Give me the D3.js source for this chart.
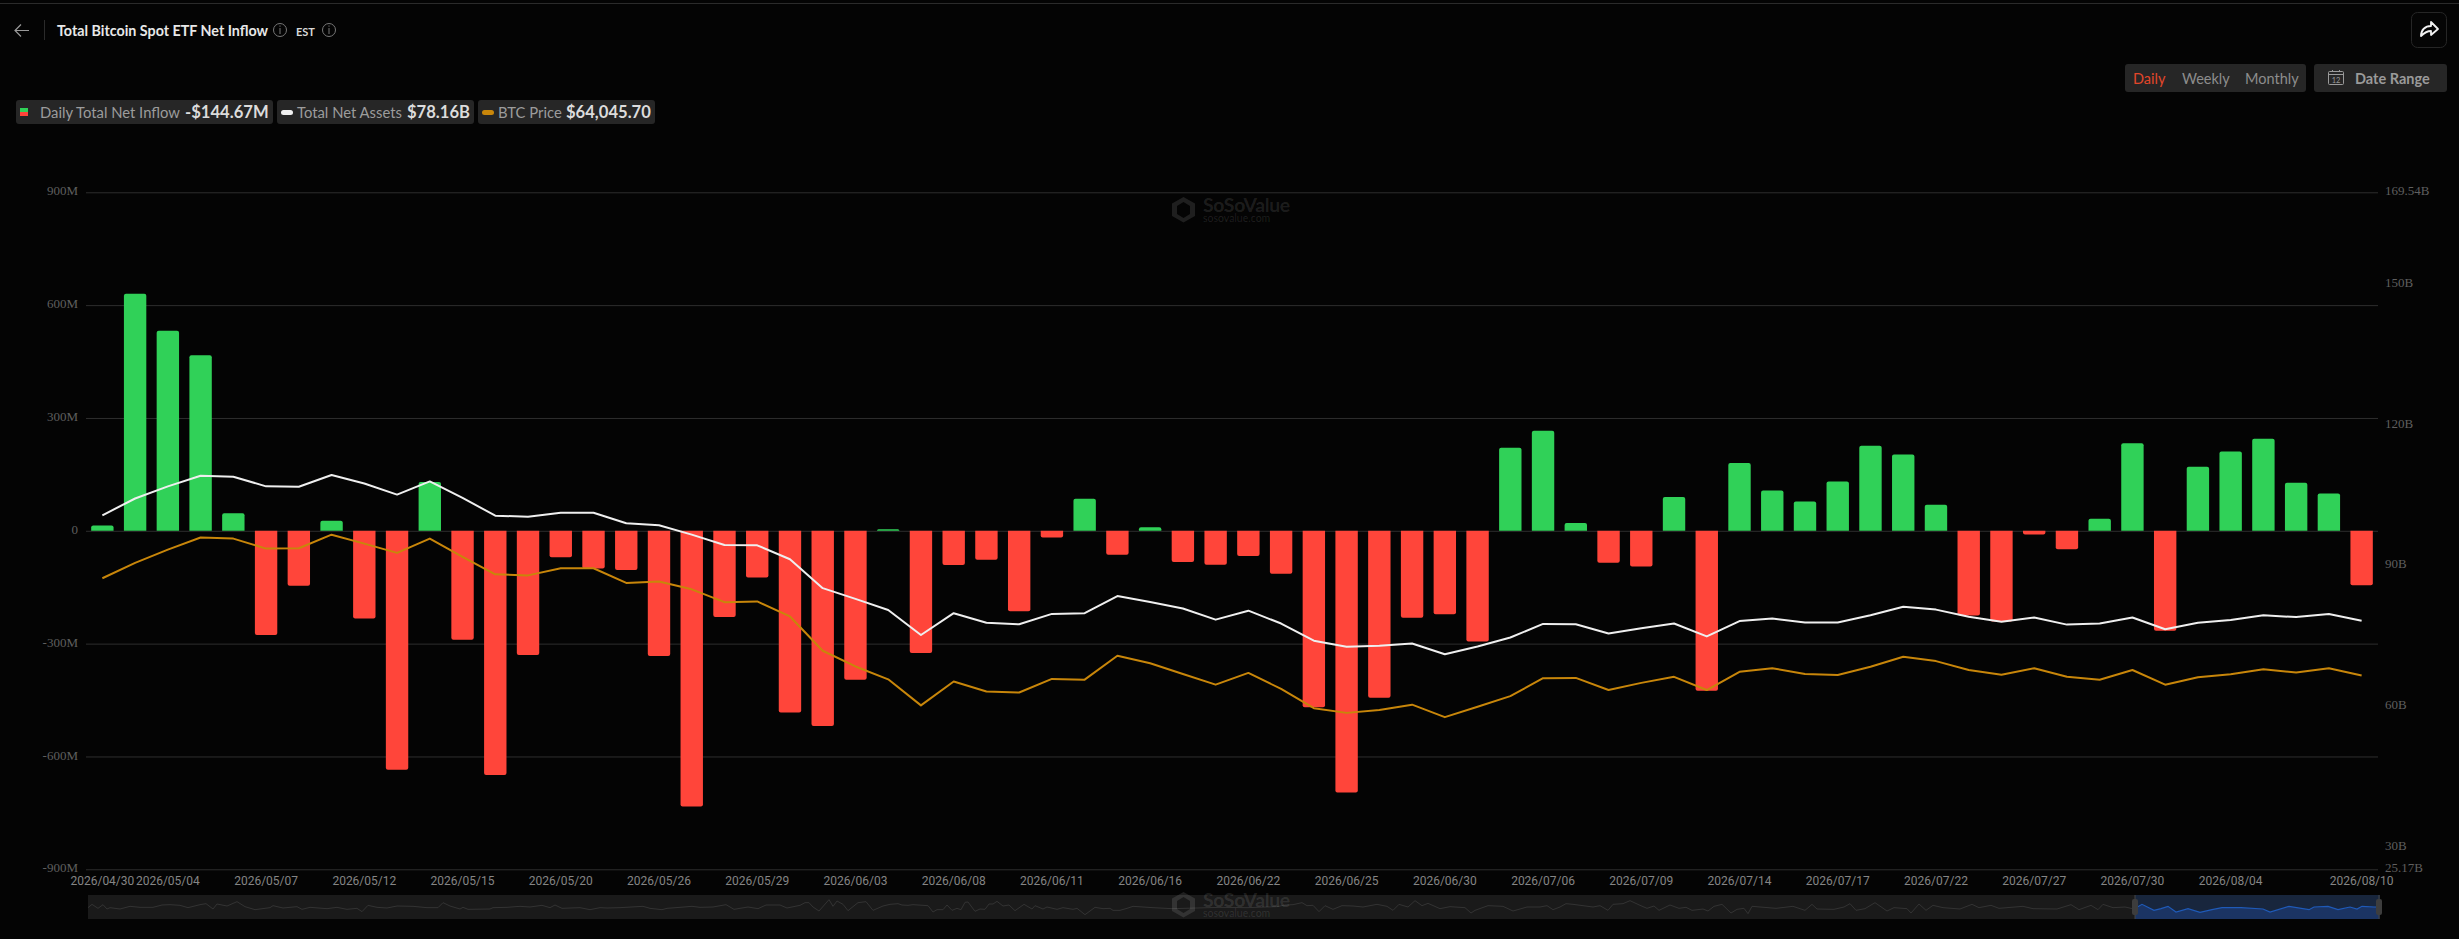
<!DOCTYPE html>
<html>
<head>
<meta charset="utf-8">
<title>Total Bitcoin Spot ETF Net Inflow</title>
<script src="https://cdn.jsdelivr.net/npm/d3@7"></script>
<style>
  html, body { margin: 0; padding: 0; background: #040404; overflow: hidden; }
  svg { display: block; }
  text { font-family: Lato, sans-serif; }
</style>
</head>
<body>
<svg id="chart" width="2459" height="939"></svg>
<script>

var dates = ["2026/04/30","2026/05/01","2026/05/04","2026/05/05","2026/05/06","2026/05/07","2026/05/08","2026/05/11","2026/05/12","2026/05/13",
  "2026/05/14","2026/05/15","2026/05/18","2026/05/19","2026/05/20","2026/05/21","2026/05/22","2026/05/26","2026/05/27","2026/05/28",
  "2026/05/29","2026/06/01","2026/06/02","2026/06/03","2026/06/04","2026/06/05","2026/06/08","2026/06/09","2026/06/10","2026/06/11",
  "2026/06/12","2026/06/15","2026/06/16","2026/06/17","2026/06/18","2026/06/22","2026/06/23","2026/06/24","2026/06/25","2026/06/26",
  "2026/06/29","2026/06/30","2026/07/01","2026/07/02","2026/07/06","2026/07/07","2026/07/08","2026/07/09","2026/07/10","2026/07/13",
  "2026/07/14","2026/07/15","2026/07/16","2026/07/17","2026/07/20","2026/07/21","2026/07/22","2026/07/23","2026/07/24","2026/07/27",
  "2026/07/28","2026/07/29","2026/07/30","2026/07/31","2026/08/03","2026/08/04","2026/08/05","2026/08/06","2026/08/07","2026/08/10"]

var xTickLabels = ["2026/04/30","2026/05/04","2026/05/07","2026/05/12","2026/05/15","2026/05/20","2026/05/26","2026/05/29",
  "2026/06/03","2026/06/08","2026/06/11","2026/06/16","2026/06/22","2026/06/25","2026/06/30","2026/07/06","2026/07/09",
  "2026/07/14","2026/07/17","2026/07/22","2026/07/27","2026/07/30","2026/08/04","2026/08/10"]

// $M
var netInflow = [14,630,532,467,46.5,-277,-146,27,-233,-635,
  130,-290,-649,-330,-70,-100,-104,-333,-733,-229,
  -124,-483,-519,-396,4,-325,-91,-77,-214,-18,
  85,-64,9.5,-83,-90,-67,-114,-469,-696,-444,
  -231,-222,-294,221,266,21,-85,-95,90,-425,
  180,107,78,131,226,203,69,-225,-241,-10,
  -49,32,233,-266,170,211,245,128,99,-144.67]

// $B
var totalAssets = [100.66,104.24,106.83,109.11,108.88,106.83,106.75,109.26,107.43,105.07,
  107.89,104.39,100.58,100.35,101.19,101.19,98.98,98.52,96.54,94.33,
  94.26,91.29,85.12,82.83,80.47,75.14,79.79,77.73,77.42,79.63,
  79.79,83.44,82.15,80.78,78.41,80.32,77.58,73.92,72.63,72.85,
  73.31,71.03,72.70,74.61,77.50,77.42,75.44,76.59,77.58,74.83,
  78.11,78.64,77.81,77.81,79.33,81.16,80.55,79.02,77.96,78.87,
  77.35,77.58,78.87,76.36,77.73,78.34,79.33,78.95,79.63,78.16]

var btcPrice = [77122,79186,80962,82594,82450,81106,81154,82978,81778,80530,
  82450,80002,77650,77506,78466,78466,76498,76690,75634,73906,
  74002,71986,67378,65266,63538,60034,63250,61906,61762,63586,
  63490,66706,65698,64258,62818,64402,62242,59650,59026,59410,
  60130,58450,59842,61282,63682,63730,62098,63058,63874,62098,
  64546,65026,64258,64114,65218,66562,65986,64786,64162,65026,
  63874,63490,64786,62818,63826,64210,64882,64450,65026,64045.7]

var leftTicks = [-900,-600,-300,0,300,600,900]
var rightTicks = [25.17,30,60,90,120,150,169.54]

// slider overview, position along the full history and a rough flow reading
var overviewStep = [0,4,10,15,19,22,32,42,52,65,74,82,92,100,112,118,125,129,139,149,157,167,182,185,195,209,214,222,239,249,259,269,274,280,289,299,309,325,339,350,355,362,372,375,380,402,405,419,432,442,454,462,467,474,492,502,512,
  519,532,555,562,574,579,592,604,612,625,638,646,660,670,678,692,699,712,717,721,725,731,741,745,749,755,760,770,778,785,795,802,810,814,820,825,840,845,849,855,859,864,869,873,877,880,887,892,897,901,905,909,915,921,927,936,944,947,955,959,969,975,985,989,997,1007,1015,1022,1025,1032,
  1039,1045,1065,1084,1109,1132,1159,1179,1189,1197,1205,1214,1219,1225,1231,1237,1245,1254,1265,1275,1289,1299,1305,1311,1320,1327,1334,1340,1352,1362,1377,1383,1387,1400,1415,1425,1439,1452,1459,1465,1472,1478,1485,1505,1512,1520,1525,1535,1542,1552,
  1559,1566,1571,1582,1591,1598,1604,1615,1620,1626,1634,1643,1649,1656,1660,1664,1688,1705,1717,1724,1729,1746,1756,1762,1768,1777,1787,1799,1806,1819,1823,1831,1838,1845,1855,1872,1884,1891,1903,1911,1935,1945,1969,1983,1991,2003,2010,2015,2025,2037,2046,
  2054,2066,2073,2080,2088,2100,2112,2124,2134,2153,2175,2182,2201,2221,2226,2240,2250,2262,2269,2274,2286,2291]
var overviewFlow = [-40,160,-80,140,-120,-40,-120,40,-20,-20,120,140,100,-40,140,200,-120,180,60,320,20,-160,-40,80,-60,20,-140,-20,-100,-20,-140,-80,-280,100,-20,-60,60,40,-40,-40,260,60,-120,-20,-140,-120,-40,-20,40,0,100,-40,120,-80,-40,-160,-40,
  -60,-40,40,-80,-160,-80,-20,40,-20,0,140,-140,0,-100,120,120,-60,100,260,260,0,-240,440,40,360,160,-220,260,320,-200,60,160,200,120,100,140,80,-300,-160,-160,120,-200,-80,-160,280,300,-260,-120,-140,180,180,340,60,120,-220,160,-120,80,-120,0,-140,-40,-140,-80,-460,-20,-100,-80,-200,-200,
  -80,40,-40,-100,-60,-20,-40,0,20,120,140,260,80,100,-280,80,-140,80,60,0,160,40,-200,160,0,380,80,220,-100,20,-40,-360,-200,80,40,-240,0,0,80,-160,0,200,160,0,80,-200,160,200,380,100,
  -80,60,-200,120,-80,-20,-200,-120,-240,40,160,-360,-140,-80,-400,40,-80,40,-200,160,-120,-140,0,200,-200,-100,260,-240,-40,-100,-360,180,-200,100,-40,-120,160,-40,100,-80,40,-100,-120,140,-160,100,-160,160,-40,0,-120,
  160,-200,-100,40,-300,-100,-320,-160,-40,-40,-120,-300,40,-160,0,40,-160,0,-120,40,0,0]

var sliderStart = 2047

var plot = {left: 86, right: 2378, top: 192.3, bottom: 869.3}
var svg = d3.select("#chart")

var x = d3.scaleBand().domain(dates).range([plot.left, plot.right]).paddingInner(0.316).paddingOuter(0.158)
var y = d3.scaleLinear().domain([-900, 900]).range([plot.bottom, plot.top])
var yAssets = d3.scaleLinear().domain([25.17, 169.54]).range([plot.bottom, plot.top])
// no axis for the price in the picture, this range just puts the line where it is
var yPrice = d3.scaleLinear().domain([38000, 129000]).range([plot.bottom, plot.top])

function center(i){ return x(dates[i]) + x.bandwidth() / 2 }

svg.append("rect").attr("width", 2459).attr("height", 939).attr("fill", "#040404")

// header
svg.append("rect").attr("x", 0).attr("y", 3).attr("width", 2459).attr("height", 1).attr("fill", "#2b2b2b")
svg.append("path").attr("d", "M29 30.5H15M21 24.5l-6 6 6 6")
  .attr("fill", "none").attr("stroke", "#9a9a9a").attr("stroke-width", 1.2)
svg.append("rect").attr("x", 44).attr("y", 20).attr("width", 1).attr("height", 20).attr("fill", "#2b2b2b")
svg.append("text").attr("x", 57).attr("y", 36).attr("fill", "#e8e8e8")
  .attr("font-size", 14.3).attr("font-weight", 700).text("Total Bitcoin Spot ETF Net Inflow")
svg.append("text").attr("x", 296).attr("y", 35.5).attr("fill", "#d8d8d8")
  .attr("font-size", 11).attr("font-weight", 700).text("EST")

function info_icon(cx, cy){
  svg.append("circle").attr("cx", cx).attr("cy", cy).attr("r", 6.5)
    .attr("fill", "none").attr("stroke", "#777").attr("stroke-width", 1)
  svg.append("rect").attr("x", cx - 0.5).attr("y", cy - 2).attr("width", 1).attr("height", 6).attr("fill", "#777")
  svg.append("rect").attr("x", cx - 0.5).attr("y", cy - 4.5).attr("width", 1).attr("height", 1.2).attr("fill", "#777")
}
info_icon(280, 30)
info_icon(329, 30)

// share button
svg.append("rect").attr("x", 2411.5).attr("y", 12.5).attr("width", 35).attr("height", 35).attr("rx", 6)
  .attr("fill", "#050505").attr("stroke", "#262626")
svg.append("path").attr("d", "M2421 36c0-6 4-10 10-10v-4l7 7-7 6v-4c-4 0-7 2-10 5z")
  .attr("fill", "none").attr("stroke", "#f2f2f2").attr("stroke-width", 1.8).attr("stroke-linejoin", "round")

// range switcher
svg.append("rect").attr("x", 2125).attr("y", 64).attr("width", 181).attr("height", 28).attr("rx", 3).attr("fill", "#262626")
svg.append("rect").attr("x", 2314).attr("y", 64).attr("width", 133).attr("height", 28).attr("rx", 3).attr("fill", "#262626")
var rangeNames = ["Daily", "Weekly", "Monthly"]
var rangeX = [2133, 2182, 2245]
rangeNames.forEach(function(name, i){
  svg.append("text").attr("x", rangeX[i]).attr("y", 84).attr("font-size", 14.5)
    .attr("fill", i == 0 ? "#e2462a" : "#8d8d8d").text(name)
})
svg.append("text").attr("x", 2355).attr("y", 84).attr("font-size", 14.5).attr("font-weight", 700)
  .attr("fill", "#9a9a9a").text("Date Range")
svg.append("rect").attr("x", 2328.5).attr("y", 71.5).attr("width", 15).attr("height", 13).attr("rx", 1)
  .attr("fill", "none").attr("stroke", "#9a9a9a")
svg.append("path").attr("d", "M2329 74.5H2343M2332.5 70v2M2339.5 70v2").attr("stroke", "#9a9a9a").attr("fill", "none")
svg.append("text").attr("x", 2336).attr("y", 83).attr("text-anchor", "middle").attr("font-size", 7.5).attr("fill", "#9a9a9a").text("12")

// legend chips
function chip(x0, x1, label, labelX, value, valueX){
  svg.append("rect").attr("x", x0).attr("y", 100).attr("width", x1 - x0).attr("height", 24).attr("rx", 3).attr("fill", "#262626")
  svg.append("text").attr("x", labelX).attr("y", 118).attr("font-size", 14.8).attr("fill", "#9c9c9c").text(label)
  svg.append("text").attr("x", valueX).attr("y", 118).attr("font-size", 16.6).attr("font-weight", 700).attr("fill", "#dcdcdc").text(value)
}
chip(16, 273, "Daily Total Net Inflow", 40, "-$144.67M", 185)
chip(277, 474, "Total Net Assets", 297, "$78.16B", 407)
chip(478, 655, "BTC Price", 498, "$64,045.70", 566)
svg.append("rect").attr("x", 20).attr("y", 108).attr("width", 8).attr("height", 4).attr("fill", "#30d158")
svg.append("rect").attr("x", 20).attr("y", 112).attr("width", 8).attr("height", 4).attr("fill", "#ff453a")
svg.append("rect").attr("x", 281).attr("y", 110).attr("width", 12).attr("height", 5).attr("rx", 2.5).attr("fill", "#f0f0f0")
svg.append("rect").attr("x", 482).attr("y", 110).attr("width", 12).attr("height", 5).attr("rx", 2.5).attr("fill", "#c8860a")

function watermark(top){
  var g = svg.append("g").attr("transform", "translate(1172," + top + ")").attr("fill", "#fff").attr("fill-opacity", 0.11)
  g.append("path").attr("fill-rule", "evenodd")
    .attr("d", "M11.5 0L23 6.5V19L11.5 25.5L0 19V6.5Z M11.5 5L5 9V17L11.5 21L18 17V9Z")
  g.append("text").attr("x", 31).attr("y", 14.5).attr("font-size", 19.4).attr("font-weight", 700)
    .attr("letter-spacing", -0.3).text("SoSoValue")
  g.append("text").attr("x", 31).attr("y", 25).attr("font-size", 10.5).text("sosovalue.com")
}
watermark(197)

// grid and y axes
svg.append("g").attr("class", "grid")
  .attr("transform", "translate(" + plot.left + ",0)")
  .call(d3.axisLeft(y).tickValues(leftTicks).tickSize(-(plot.right - plot.left)).tickFormat(""))
  .call(function(g){ g.select(".domain").remove() })
  .call(function(g){ g.selectAll("line").attr("stroke", "#2e2e2e") })

svg.append("g")
  .attr("transform", "translate(78,-1.6)")
  .call(d3.axisLeft(y).tickValues(leftTicks).tickSize(0).tickPadding(0)
    .tickFormat(function(d){ return d == 0 ? "0" : d + "M" }))
  .call(function(g){ g.select(".domain").remove() })
  .call(function(g){ g.selectAll("text").style("font-family", "'Liberation Serif', serif").attr("font-size", 13).attr("fill", "#5f5f5f") })

svg.append("g")
  .attr("transform", "translate(2385,-1.6)")
  .call(d3.axisRight(yAssets).tickValues(rightTicks).tickSize(0).tickPadding(0)
    .tickFormat(function(d){ return d + "B" }))
  .call(function(g){ g.select(".domain").remove() })
  .call(function(g){ g.selectAll("text").style("font-family", "'Liberation Serif', serif").attr("font-size", 13).attr("fill", "#5f5f5f") })

// x axis
svg.append("g")
  .attr("transform", "translate(0,869.3)")
  .call(d3.axisBottom(x).tickValues(xTickLabels).tickSize(0).tickPadding(7))
  .call(function(g){ g.select(".domain").remove() })
  .call(function(g){ g.selectAll("text").style("font-family", "Roboto, sans-serif").attr("font-size", 12).attr("fill", "#858585") })

// bars
svg.append("g").selectAll("path")
  .data(netInflow)
  .join("path")
    .attr("fill", function(d){ return d >= 0 ? "#30d158" : "#ff453a" })
    .attr("d", function(d, i){
      var x0 = x(dates[i]), w = x.bandwidth(), y0 = y(0), y1 = y(d)
      var r = Math.min(2, Math.abs(y1 - y0))
      var s = d >= 0 ? 1 : -1
      return "M" + x0 + "," + y0 + "V" + (y1 + s * r) + "Q" + x0 + "," + y1 + " " + (x0 + r) + "," + y1 +
        "H" + (x0 + w - r) + "Q" + (x0 + w) + "," + y1 + " " + (x0 + w) + "," + (y1 + s * r) + "V" + y0 + "Z"
    })

// lines
var assetsLine = d3.line().x(function(d, i){ return center(i) }).y(function(d){ return yAssets(d) })
var priceLine = d3.line().x(function(d, i){ return center(i) }).y(function(d){ return yPrice(d) })
svg.append("path").attr("fill", "none").attr("stroke", "#c8860a").attr("stroke-width", 2)
  .attr("stroke-linejoin", "round").attr("d", priceLine(btcPrice))
svg.append("path").attr("fill", "none").attr("stroke", "#efefef").attr("stroke-width", 2)
  .attr("stroke-linejoin", "round").attr("d", assetsLine(totalAssets))

// slider
var slider = {left: 88, right: 2380, top: 895, bottom: 919}
var xOverview = d3.scaleLinear().domain([0, 2292]).range([slider.left, slider.right])
var yOverview = d3.scaleLinear().domain([-720, 720]).range([slider.bottom, slider.top])
var overview = d3.zip(overviewStep, overviewFlow)
var overviewLine = d3.line().x(function(d){ return xOverview(d[0]) }).y(function(d){ return yOverview(d[1]) })
var overviewArea = d3.area().x(function(d){ return xOverview(d[0]) }).y0(slider.bottom).y1(function(d){ return yOverview(d[1]) })

svg.append("rect").attr("x", slider.left).attr("y", slider.top).attr("width", slider.right - slider.left)
  .attr("height", slider.bottom - slider.top).attr("fill", "#1a1a1a")
svg.append("path").attr("fill", "none").attr("stroke", "#333").attr("d", overviewLine(overview))

svg.append("clipPath").attr("id", "picked").append("rect")
  .attr("x", xOverview(sliderStart)).attr("y", slider.top)
  .attr("width", slider.right - xOverview(sliderStart)).attr("height", slider.bottom - slider.top)
var picked = svg.append("g").attr("clip-path", "url(#picked)")
picked.append("rect").attr("x", xOverview(sliderStart)).attr("y", slider.top)
  .attr("width", slider.right - xOverview(sliderStart)).attr("height", slider.bottom - slider.top).attr("fill", "#18263d")
picked.append("path").attr("fill", "#1b3463").attr("d", overviewArea(overview))
picked.append("path").attr("fill", "none").attr("stroke", "#1f5ab8").attr("stroke-width", 1.2).attr("d", overviewLine(overview))

;[xOverview(sliderStart), slider.right - 1].forEach(function(hx){
  svg.append("rect").attr("x", hx - 0.5).attr("y", slider.top).attr("width", 1).attr("height", slider.bottom - slider.top).attr("fill", "#444")
  svg.append("rect").attr("x", hx - 3).attr("y", 899).attr("width", 6).attr("height", 16).attr("rx", 2).attr("fill", "#3d3d3d")
})
watermark(892)

</script>
</body>
</html>
